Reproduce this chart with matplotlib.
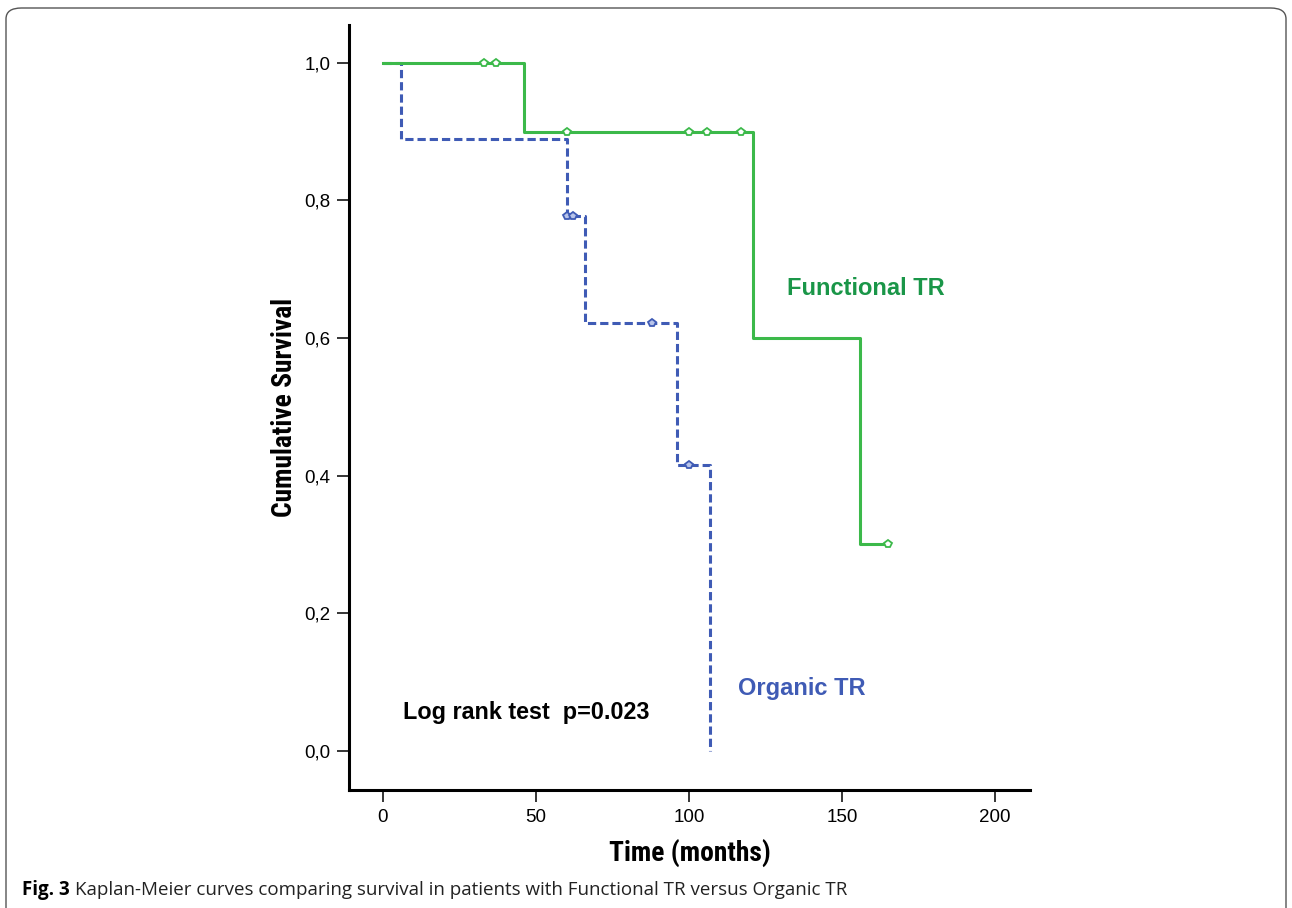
import matplotlib
matplotlib.use('Agg')
import matplotlib.pyplot as plt
from matplotlib.patches import FancyBboxPatch
import numpy as np

# Functional TR: step times / survival, censor times
func_t = [0, 46, 121, 156, 165]
func_s = [1.0, 0.9, 0.6, 0.3, 0.3]
func_cens_t = [33, 37, 60, 100, 106, 117, 165]
func_cens_s = [1.0, 1.0, 0.9, 0.9, 0.9, 0.9, 0.3]

# Organic TR
org_t = [0, 6, 60, 66, 96, 107]
org_s = [1.0, 0.889, 0.778, 0.622, 0.415, 0.0]
org_cens_t = [60, 62, 88, 100]
org_cens_s = [0.778, 0.778, 0.622, 0.415]

xticks = [0, 50, 100, 150, 200]
yticks = [0.0, 0.2, 0.4, 0.6, 0.8, 1.0]
ytick_labels = ['0,0', '0,2', '0,4', '0,6', '0,8', '1,0']

green = '#3cb94a'
green_txt = '#1a9648'
blue = '#3f5bb5'

narrow = ['Roboto Condensed', 'Archivo Narrow', 'DejaVu Sans']
cap_font = ['Open Sans', 'DejaVu Sans']

fig = plt.figure(figsize=(12.92, 9.08), dpi=100)
W, H = 1292, 908
# axes box in pixels: left 349, right 1030, top 25, bottom 790
ax = fig.add_axes([349 / W, 1 - 790 / H, (1030 - 349) / W, (790 - 25) / H])

ax.step(func_t, func_s, where='post', color=green, lw=2.2, zorder=3)
ax.step(org_t, org_s, where='post', color=blue, lw=2.2,
        dashes=(2.7, 1.3), zorder=2)
ax.plot(func_cens_t, func_cens_s, ls='none', marker='p', ms=6,
        mfc='white', mec=green, mew=1.3, zorder=4)
ax.plot(org_cens_t, org_cens_s, ls='none', marker='p', ms=6,
        mfc='#b8c4ea', mec=blue, mew=1.3, zorder=4)

ax.set_xlim(-11.1, 211.4)
ax.set_ylim(-0.057, 1.055)

for s in ['top', 'right']:
    ax.spines[s].set_visible(False)
for s in ['left', 'bottom']:
    ax.spines[s].set_linewidth(2.2)

ax.set_xticks(xticks)
ax.set_yticks(yticks)
ax.set_yticklabels(ytick_labels)
ax.tick_params(axis='both', direction='out', length=8.5, width=1.1,
               labelsize=13.5, pad=5)
for lab in ax.get_xticklabels() + ax.get_yticklabels():
    lab.set_family('Liberation Sans')

ax.set_xlabel('Time (months)', family=narrow, fontweight='bold',
              fontsize=19.8, va='center')
ax.xaxis.set_label_coords(0.5007, -0.0824)
ax.set_ylabel('Cumulative Survival', family=narrow, fontweight='bold',
              fontsize=19.8, va='center')
ax.yaxis.set_label_coords(-0.0954, 0.5007)

ax.text(132, 0.672, 'Functional TR', color=green_txt, fontsize=17,
        fontweight='bold', family='Liberation Sans', va='center')
ax.text(116, 0.091, 'Organic TR', color=blue, fontsize=17,
        fontweight='bold', family='Liberation Sans', va='center')
ax.text(6.5, 0.055, 'Log rank test  p=0.023', color='black', fontsize=16.8,
        fontweight='bold', family='Liberation Sans', va='center')

# rounded frame round the figure
frame = FancyBboxPatch((6 / W, -0.05), (W - 12) / W, 1 - 8 / H + 0.05,
                       boxstyle='round,pad=0,rounding_size=0.012',
                       transform=fig.transFigure, fill=False,
                       ec='#555555', lw=1.0)
fig.patches.append(frame)

# caption: bold "Fig. 3" then the rest right after it
cap_y = 1 - 890 / H
t1 = fig.text(22 / W, cap_y, 'Fig. 3', fontweight='bold', fontsize=13.5,
              family=cap_font, va='center')
r = fig.canvas.get_renderer()
x_end = t1.get_window_extent(renderer=r).x1
fig.text((x_end + 5) / W, cap_y,
         'Kaplan-Meier curves comparing survival in patients with Functional TR versus Organic TR',
         fontsize=13.5, family=cap_font, va='center', color='#222222')

fig.savefig('out.png', dpi=100)
